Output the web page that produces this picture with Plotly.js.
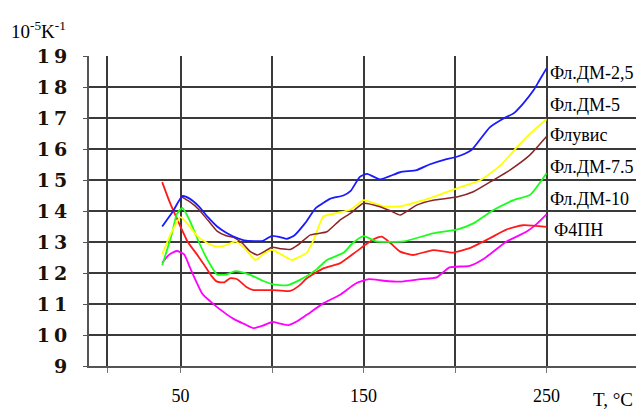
<!DOCTYPE html>
<html><head><meta charset="utf-8">
<script src="https://cdn.plot.ly/plotly-3.0.1.min.js"></script>
<style>
html,body{margin:0;padding:0;background:#fff;}
.yaxislayer-above text{letter-spacing:4px;}
</style>
</head><body>
<div id="chart" style="width:636px;height:411px;"></div>
<script>
// Series names (right-side labels)
const seriesNames = ["Фл.ДМ-2,5", "Фл.ДМ-5", "Флувис", "Фл.ДМ-7.5", "Фл.ДМ-10", "Ф4ПН"];

// Фл.ДМ-2,5 (blue)
const tBlue = [40,46,51,55,60,65,70,75,80,86,95,100,105,108,112,118,124,132,139,143,148,152,159,170,179,186,194,201,209,219,227,232,237,243,246,250];
const aBlue = [13.5,14.0,14.48,14.4,14.15,13.8,13.5,13.3,13.15,13.04,13.04,13.2,13.15,13.1,13.2,13.6,14.1,14.4,14.5,14.65,15.1,15.2,15.02,15.25,15.32,15.5,15.65,15.75,15.97,16.7,17.0,17.15,17.45,17.9,18.2,18.6];

// Фл.ДМ-5 (yellow)
const tYellow = [40,45,50,55,59,65,70,75,80,85,91,96,100,105,111,116,119,123,128,135,143,150,156,161,170,180,188,201,214,225,234,243,250];
const aYellow = [12.6,13.3,13.8,13.5,13.2,12.95,12.85,12.9,13.02,12.8,12.42,12.65,12.75,12.6,12.42,12.55,12.65,13.1,13.82,13.93,14.05,14.35,14.25,14.15,14.15,14.3,14.45,14.73,15.0,15.48,16.07,16.6,16.96];

// Флувис (brown)
const tBrown = [50,55,60,65,70,75,79,84,88,92,96,100,105,110,114,121,126,130,137,143,150,159,165,170,179,188,201,210,221,230,241,250];
const aBrown = [14.48,14.3,14.05,13.7,13.35,13.2,13.15,12.95,12.7,12.58,12.7,12.83,12.78,12.76,12.9,13.23,13.28,13.33,13.7,13.93,14.25,14.14,14.0,13.87,14.19,14.35,14.45,14.62,15.0,15.32,15.81,16.4];

// Фл.ДМ-7.5 (green)
const tGreen = [40,45,48,51,55,60,65,70,75,80,88,95,100,108,115,124,130,139,144,150,157,172,188,201,210,221,232,241,250];
const aGreen = [12.25,13.2,13.9,14.1,13.7,13.0,12.4,11.95,11.95,12.06,11.94,11.75,11.64,11.6,11.77,12.1,12.42,12.65,12.96,13.19,13.02,13.02,13.28,13.4,13.6,14.03,14.35,14.52,15.22];

// Фл.ДМ-10 (magenta)
const tMagenta = [40,44,48,52,55,58,62,66,70,79,85,90,95,100,105,109,114,119,128,137,146,153,161,170,181,190,197,208,216,228,239,245,250];
const aMagenta = [12.33,12.6,12.71,12.6,12.2,11.8,11.32,11.1,10.9,10.52,10.35,10.22,10.3,10.42,10.36,10.32,10.45,10.65,11.02,11.29,11.67,11.8,11.75,11.72,11.8,11.86,12.18,12.23,12.47,13.01,13.33,13.6,13.89];

// Ф4ПН (red)
const tRed = [40,44,48,54,59,63,67,70,74,77,81,86,90,100,110,115,119,128,137,146,152,156,160,165,170,177,188,199,208,219,228,237,250];
const aRed = [14.93,14.3,13.76,13.0,12.6,12.26,11.9,11.72,11.7,11.83,11.8,11.55,11.45,11.45,11.42,11.6,11.83,12.15,12.31,12.69,12.95,13.1,13.17,12.95,12.69,12.58,12.74,12.66,12.8,13.12,13.4,13.54,13.49];

// Axis ticks
const xTickVals = [50, 150, 250];
const xTickText = ["50", "150", "250"];
const xMinorVals = [10, 100, 200];
const yTickVals = [9,10,11,12,13,14,15,16,17,18,19];

const serif = "Liberation Serif, Times New Roman, serif";

function tr(x, y, color, name, w) {
  return {x: x, y: y, type: "scatter", mode: "lines", name: name,
          line: {color: color, width: w, shape: "spline", smoothing: 0.5},
          hoverinfo: "skip"};
}

const data = [
  tr(tMagenta, aMagenta, "#ff00ff", seriesNames[4], 1.8),
  tr(tRed, aRed, "#ff1a1a", seriesNames[5], 1.8),
  tr(tGreen, aGreen, "#1aff1a", seriesNames[3], 1.8),
  tr(tYellow, aYellow, "#ffff00", seriesNames[1], 1.8),
  tr(tBrown, aBrown, "#8b2525", seriesNames[2], 1.5),
  tr(tBlue, aBlue, "#1a1aff", seriesNames[0], 1.8)
];

// label placement (layout, not data)
const labelY = [18.45, 17.42, 16.45, 15.42, 14.39, 13.39];
const labelX = [251, 251, 251, 251, 251, 253];

const annotations = seriesNames.map((n, i) => ({
  text: n, x: labelX[i], y: labelY[i], xref: "x", yref: "y",
  xanchor: "left", yanchor: "middle", showarrow: false,
  font: {family: serif, size: 18, color: "#000"}
}));
annotations.push({
  text: "10<sup>-5</sup>K<sup>-1</sup>", xref: "paper", yref: "paper",
  x: -0.146, y: 1.085, xanchor: "left", yanchor: "middle", showarrow: false,
  font: {family: serif, size: 19, color: "#000"}
});
annotations.push({
  text: "T, °C", xref: "paper", yref: "paper",
  x: 0.918, y: -0.108, xanchor: "left", yanchor: "middle", showarrow: false,
  font: {family: serif, size: 19, color: "#000"}
});

const layout = {
  width: 636, height: 411,
  margin: {l: 89, r: 0, t: 56, b: 45},
  paper_bgcolor: "#fff", plot_bgcolor: "#fff",
  showlegend: false,
  xaxis: {
    range: [0, 298.9], tickmode: "array", tickvals: xTickVals, ticktext: xTickText,
    showgrid: true, gridcolor: "#3a3a3a", gridwidth: 2,
    zeroline: false, showline: true, linecolor: "#555", linewidth: 2,
    ticks: "outside", ticklen: 5, tickcolor: "#777", tickwidth: 1,
    ticklabelstandoff: 7,
    tickfont: {family: serif, size: 18, color: "#000"},
    minor: {tickmode: "array", tickvals: xMinorVals, showgrid: true,
            gridcolor: "#3a3a3a", gridwidth: 2,
            ticks: "outside", ticklen: 5, tickcolor: "#777", tickwidth: 1}
  },
  yaxis: {
    range: [9, 19], tickmode: "array", tickvals: yTickVals,
    showgrid: true, gridcolor: "#3a3a3a", gridwidth: 2,
    zeroline: false, showline: true, linecolor: "#555", linewidth: 2,
    ticks: "outside", ticklen: 4, tickcolor: "#555", tickwidth: 1,
    ticklabelstandoff: 8,
    tickfont: {family: "DejaVu Serif", size: 19, color: "#1a1208", weight: "bold"}
  },
  annotations: annotations
};

Plotly.newPlot("chart", data, layout, {displayModeBar: false, staticPlot: true});
</script>
</body></html>
